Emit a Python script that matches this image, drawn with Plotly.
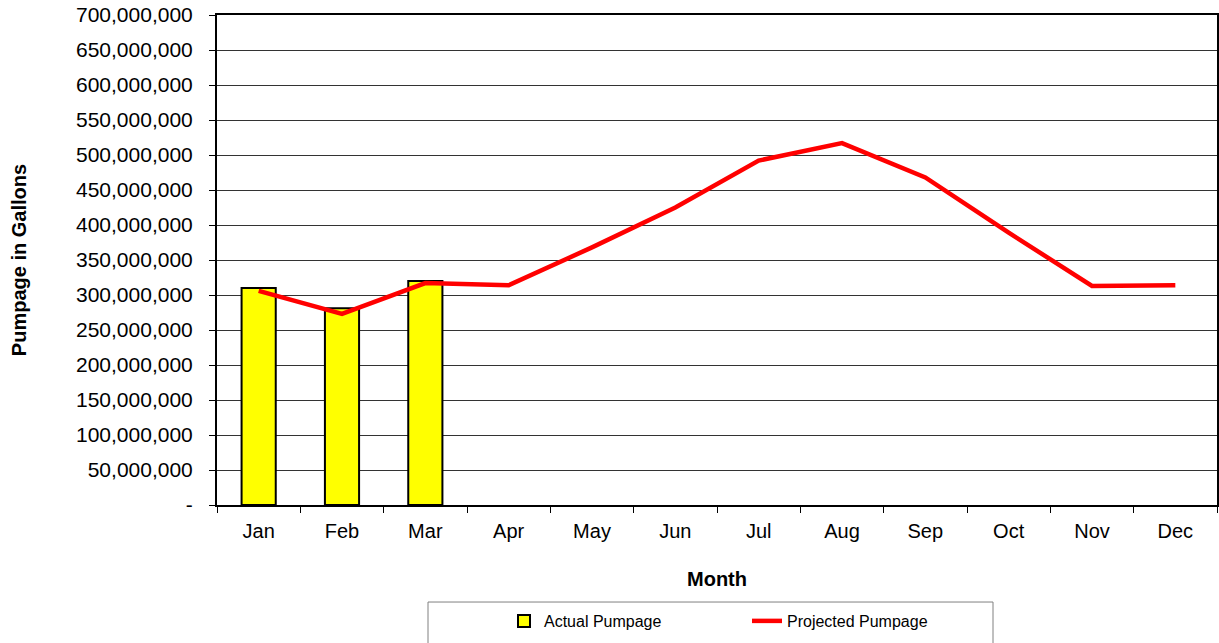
import plotly.graph_objects as go

months = ["Jan", "Feb", "Mar", "Apr", "May", "Jun", "Jul", "Aug", "Sep", "Oct", "Nov", "Dec"]
actual_months = ["Jan", "Feb", "Mar"]
actual_pumpage = [310_000_000, 281_000_000, 320_000_000]
projected_pumpage = [306_000_000, 273_000_000, 317_000_000, 314_000_000, 368_000_000, 425_000_000,
                     492_000_000, 517_000_000, 468_000_000, 389_000_000, 313_000_000, 314_000_000]
y_ticks = list(range(0, 700_000_001, 50_000_000))
y_tick_labels = ["-"] + [f"{v:,}" for v in y_ticks[1:]]

font_family = "Liberation Sans, Arial, sans-serif"

fig = go.Figure()
fig.add_trace(go.Bar(
    x=actual_months, y=actual_pumpage, name="Actual Pumpage",
    marker=dict(color="#FFFF00", line=dict(color="black", width=2)),
    width=0.41,
))
fig.add_trace(go.Scatter(
    x=months, y=projected_pumpage, name="Projected Pumpage", mode="lines",
    line=dict(color="#FF0000", width=4.5),
))

# legend frame
fig.add_shape(type="rect", xref="paper", yref="paper",
              x0=0.211, x1=0.776, y0=-0.31, y1=-0.198,
              line=dict(color="#808080", width=1), fillcolor="white", layer="below")

fig.update_layout(
    width=1219, height=643,
    margin=dict(l=217, r=2, t=15, b=138, autoexpand=False),
    plot_bgcolor="white", paper_bgcolor="white",
    font=dict(family=font_family, size=20, color="black"),
    showlegend=True,
    legend=dict(
        orientation="h", x=0.287, xanchor="left", y=-0.202, yanchor="top",
        borderwidth=0, bgcolor="rgba(0,0,0,0)", font=dict(size=16),
        entrywidth=198,
    ),
)
fig.update_xaxes(
    type="category", categoryorder="array", categoryarray=months,
    range=[-0.5, 11.5],
    showline=True, linecolor="black", linewidth=2, mirror=True,
    ticks="outside", tickson="boundaries", ticklen=6, tickcolor="black",
    ticklabelstandoff=7,
    showgrid=False,
    title=dict(text="<b>Month</b>", font=dict(size=20), standoff=31),
    tickfont=dict(size=20),
)
fig.update_yaxes(
    range=[0, 700_000_000], tickvals=y_ticks, ticktext=y_tick_labels,
    showline=True, linecolor="black", linewidth=2, mirror=True,
    ticks="outside", ticklen=6, tickcolor="black",
    ticklabelstandoff=12,
    showgrid=True, gridcolor="#333333", gridwidth=1,
    zeroline=False,
    title=dict(text="<b>Pumpage in Gallons</b>", font=dict(size=20), standoff=44),
    tickfont=dict(size=21),
)

fig.write_html("out.html", config={"displayModeBar": False},
               post_script="document.body.style.margin='0';document.body.style.overflow='hidden';")
